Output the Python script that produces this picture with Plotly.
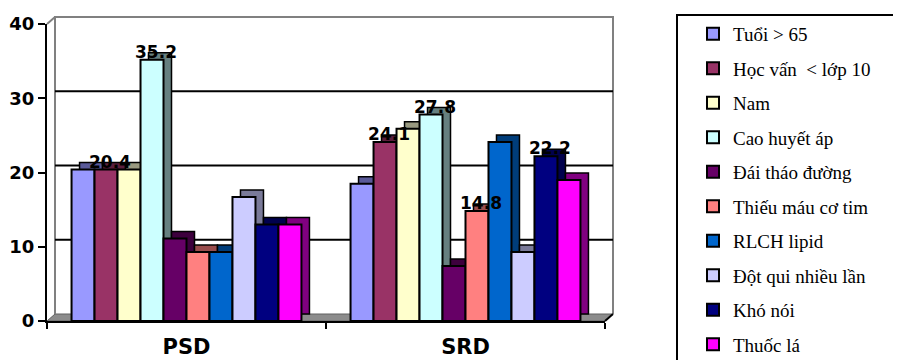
import plotly.graph_objects as go

# ---------------- data ----------------
groups = ["PSD", "SRD"]
factors = ["Tuổi > 65", "Học vấn\u00a0 < lớp 10", "Nam", "Cao huyết áp", "Đái tháo đường",
           "Thiếu máu cơ tim", "RLCH lipid", "Đột qui nhiều lần", "Khó nói", "Thuốc lá"]
psd_values = [20.4, 20.4, 20.4, 35.2, 11.1, 9.3, 9.3, 16.7, 13.0, 13.0]
srd_values = [18.5, 24.1, 25.9, 27.8, 7.4, 14.8, 24.1, 9.3, 22.2, 19.0]
psd_labels = ["", "20.4", "", "35.2", "", "", "", "", "", ""]
srd_labels = ["", "24.1", "", "27.8", "", "14.8", "", "", "22.2", ""]
y_tick_values = [0, 10, 20, 30, 40]

front_colors = ["#9999FF", "#993366", "#FFFFCC", "#CCFFFF", "#660066",
                "#FF8080", "#0066CC", "#CCCCFF", "#000080", "#FF00FF"]
side_colors = ["#5a5a99", "#5c1f3d", "#999980", "#668080", "#3d003d",
               "#994d4d", "#003d7a", "#7a7a99", "#00004d", "#800080"]

# ---------------- geometry ----------------
W, H = 901, 360
OFF = 8                       # page body margin of the browser
ML, MT = 47 - OFF, 24 - OFF   # plot area top-left in figure pixels
PW, PH = 558, 297
MR, MB = W - ML - PW, H - MT - PH
YMAX = 40
ppx = PW / 2.0
ppy = PH / YMAX
DX, DY = 8, 7          # 3D depth offset (px)
LX, LY = 4, 5          # label offset (px)


def px(sx):  # screen x -> paper x
    return (sx - OFF - ML) / PW


def py(sy):  # screen y -> paper y
    return (MT + PH - (sy - OFF)) / PH


AX_FONT = "DejaVu Sans"
LEG_FONT = "Liberation Serif, 'Times New Roman', serif"
fig = go.Figure()

# depth (side/top faces) on base axes shifted right/up
for i, name in enumerate(factors):
    fig.add_trace(go.Bar(
        x=groups, y=[psd_values[i], srd_values[i]], name=name,
        xaxis="x", yaxis="y", showlegend=False, hoverinfo="skip",
        marker=dict(color=side_colors[i], line=dict(color="black", width=1.5)),
    ))
# front faces
for i, name in enumerate(factors):
    fig.add_trace(go.Bar(
        x=groups, y=[psd_values[i], srd_values[i]], name=name,
        xaxis="x2", yaxis="y2", legendgroup=name, showlegend=True,
        marker=dict(color=front_colors[i], line=dict(color="black", width=2)),
    ))
# data labels
for i, name in enumerate(factors):
    fig.add_trace(go.Bar(
        x=groups, y=[psd_values[i], srd_values[i]], name=name,
        xaxis="x3", yaxis="y3", showlegend=False, hoverinfo="skip",
        marker=dict(color="rgba(0,0,0,0)", line=dict(width=0)),
        text=[psd_labels[i], srd_labels[i]], textposition="outside",
        textangle=0, constraintext="none", cliponaxis=False,
        textfont=dict(family=AX_FONT, size=17, color="black", weight="bold"),
    ))

xr = [-0.5, 1.5]
fig.update_layout(
    width=W, height=H,
    margin=dict(l=ML, r=MR, t=MT, b=MB, pad=0, autoexpand=False),
    paper_bgcolor="white", plot_bgcolor="rgba(0,0,0,0)",
    barmode="group", bargap=0.176, bargroupgap=0,
    hovermode=False,
    xaxis=dict(visible=False, automargin=False,
               range=[xr[0] - DX / ppx, xr[1] - DX / ppx], fixedrange=True),
    yaxis=dict(visible=False, automargin=False,
               range=[-DY / ppy, YMAX - DY / ppy], fixedrange=True),
    xaxis2=dict(overlaying="x", anchor="y2", range=xr, showgrid=False, automargin=False,
                showline=True, linecolor="black", linewidth=2,
                ticks="outside", tickson="boundaries", ticklen=6, tickwidth=2,
                tickcolor="black", ticklabelstandoff=6,
                tickfont=dict(family=AX_FONT, size=21, color="black", weight="bold")),
    yaxis2=dict(overlaying="y", anchor="x2", range=[0, YMAX], showgrid=False,
                zeroline=False, tickvals=y_tick_values, automargin=False,
                showline=True, linecolor="black", linewidth=2,
                ticks="outside", ticklen=7, tickwidth=2, tickcolor="black",
                tickfont=dict(family=AX_FONT, size=18, color="black", weight="bold")),
    xaxis3=dict(overlaying="x", anchor="y3", visible=False, automargin=False,
                range=[xr[0] - LX / ppx, xr[1] - LX / ppx]),
    yaxis3=dict(overlaying="y", anchor="x3", visible=False, automargin=False,
                range=[LY / ppy, YMAX + LY / ppy]),
    legend=dict(
        x=px(693), y=py(15), xanchor="left", yanchor="top",
        bgcolor="rgba(0,0,0,0)", borderwidth=0,
        traceorder="grouped", tracegroupgap=6.8,
        maxheight=600,
        font=dict(family=LEG_FONT, size=19, color="black"),
    ),
)

dxp, dyp = DX / PW, DY / PH
shapes = []
# floor slab
shapes.append(dict(type="path", xref="paper", yref="paper", layer="below",
                   path=f"M 0,0 L 1,0 L {1+dxp},{dyp} L {dxp},{dyp} Z",
                   fillcolor="#8c8c8c", line=dict(color="#606060", width=1)))
# back wall outline
shapes.append(dict(type="path", xref="paper", yref="paper", layer="below",
                   path=f"M {dxp},{dyp} L {dxp},{1+dyp} L {1+dxp},{1+dyp} L {1+dxp},{dyp}",
                   line=dict(color="#808080", width=2)))
# left wall top edge
shapes.append(dict(type="line", xref="paper", yref="paper", layer="below",
                   x0=0, y0=1, x1=dxp, y1=1 + dyp, line=dict(color="#808080", width=2)))
# back-wall gridlines
for v in y_tick_values[1:-1]:
    shapes.append(dict(type="line", xref="paper", yref="y", layer="below",
                       x0=dxp, x1=1 + dxp, y0=v, y1=v,
                       line=dict(color="black", width=2)))
# right floor corner
shapes.append(dict(type="line", xref="paper", yref="paper", layer="above",
                   x0=1, y0=0, x1=1 + dxp, y1=dyp, line=dict(color="black", width=2)))
# legend frame (cut by the page edge)
shapes.append(dict(type="rect", xref="paper", yref="paper", layer="above",
                   x0=px(677), x1=px(940), y0=py(420), y1=py(15),
                   line=dict(color="black", width=2), fillcolor="rgba(0,0,0,0)"))
fig.update_layout(shapes=shapes)

fig.write_html("out.html")
